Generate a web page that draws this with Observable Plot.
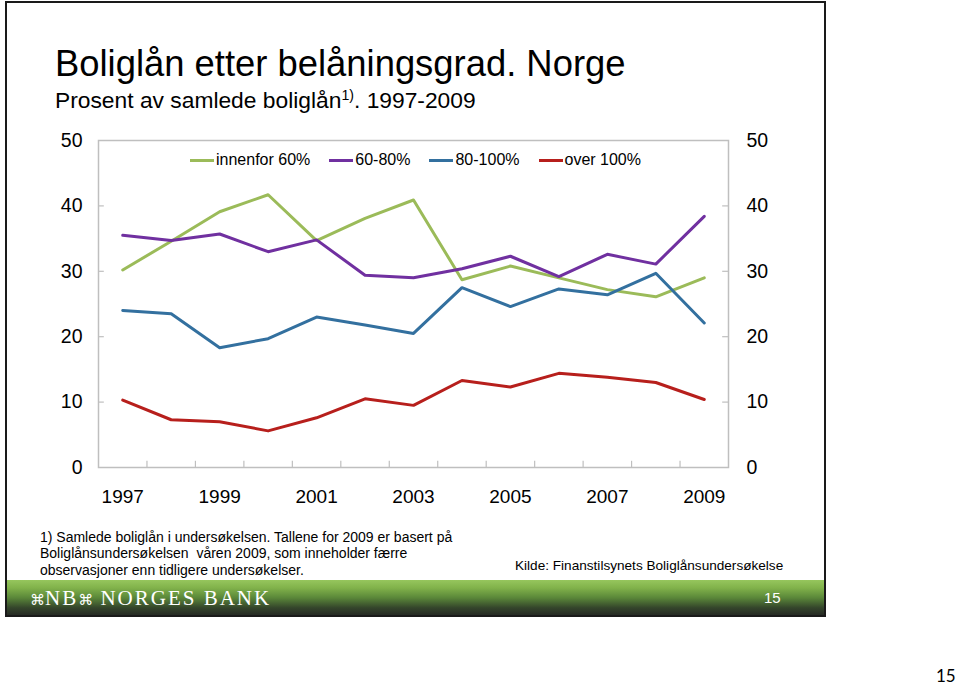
<!DOCTYPE html>
<html>
<head>
<meta charset="utf-8">
<script src="https://cdn.jsdelivr.net/npm/d3@7"></script>
<script src="https://cdn.jsdelivr.net/npm/@observablehq/plot@0.6"></script>
<style>
  html, body { margin: 0; padding: 0; background: #fff; }
  #page { position: relative; width: 960px; height: 685px; overflow: hidden; background: #fff;
          font-family: "Liberation Sans", Arial, Helvetica, sans-serif; color: #000; }
  .abs { position: absolute; white-space: nowrap; }
  #slideBorder { left: 5px; top: 1px; width: 821px; height: 616px; border: 2px solid #1a1a1a;
                 box-sizing: border-box; pointer-events: none; z-index: 5; }
  #title { left: 55px; top: 45.5px; font-size: 36.4px; line-height: 36px; }
  #subtitle { left: 55px; top: 89px; font-size: 22.8px; line-height: 23px; }
  #subtitle sup { font-size: 0.62em; vertical-align: 0.55em; line-height: 0; }
  #chart { position: absolute; left: 0; top: 120px; }
  #legend { left: 190px; top: 151px; height: 18px; display: flex; align-items: center; gap: 19px; font-size: 16px; z-index: 3; }
  #legend .item { display: flex; align-items: center; gap: 2px; }
  #legend .sw { width: 24px; height: 3px; }
  #note { left: 40px; top: 528.5px; font-size: 14px; line-height: 16.5px; }
  #source { left: 515px; top: 557.5px; font-size: 13.6px; line-height: 16.5px; }
  #footer { left: 5px; top: 580px; width: 821px; height: 37px; z-index: 1;
            background-image: linear-gradient(180deg, #96c65d 0%, #80b14a 22%, #5a8739 48%, #34452b 75%, #232323 100%); }
  #logo { left: 30px; top: 588px; color: #fff; font-family: "Liberation Serif", "DejaVu Serif", serif; font-size: 21px; line-height: 21px; letter-spacing: 2px; z-index: 2; }
  #logo .knot { font-family: "DejaVu Sans", sans-serif; font-size: 15px; letter-spacing: 0; }
  #pnum { left: 764px; top: 590px; color: #fff; font-size: 15px; line-height: 16px; z-index: 2; }
  #outerNum { left: 936px; top: 667px; font-family: Lato, "Open Sans", sans-serif; font-size: 17px; line-height: 18px; }
</style>
</head>
<body>
<div id="page">
  <div id="title" class="abs">Boliglån etter belåningsgrad. Norge</div>
  <div id="subtitle" class="abs">Prosent av samlede boliglån<sup>1)</sup>. 1997-2009</div>
  <div id="chart"></div>
  <div id="legend" class="abs"></div>
  <div id="note" class="abs">1) Samlede boliglån i undersøkelsen. Tallene for 2009 er basert på<br>Boliglånsundersøkelsen&nbsp; våren 2009, som inneholder færre<br>observasjoner enn tidligere undersøkelser.</div>
  <div id="source" class="abs">Kilde: Finanstilsynets Boliglånsundersøkelse</div>
  <div id="footer" class="abs"></div>
  <div id="logo" class="abs"><span class="knot">⌘</span>NB<span class="knot">⌘</span> NORGES BANK</div>
  <div id="pnum" class="abs">15</div>
  <div id="slideBorder" class="abs"></div>
  <div id="outerNum" class="abs">15</div>
</div>
<script>
// ---- data ----
const years = [1997, 1998, 1999, 2000, 2001, 2002, 2003, 2004, 2005, 2006, 2007, 2008, 2009];
const innenfor60 = [30.2, 34.6, 39.1, 41.7, 34.7, 38.1, 40.9, 28.7, 30.8, 29.0, 27.2, 26.1, 29.0];
const p60_80     = [35.5, 34.7, 35.7, 33.0, 34.8, 29.4, 29.0, 30.4, 32.3, 29.2, 32.6, 31.1, 38.4];
const p80_100    = [24.0, 23.5, 18.3, 19.7, 23.0, 21.8, 20.5, 27.5, 24.6, 27.3, 26.4, 29.7, 22.1];
const over100    = [10.3, 7.3, 7.0, 5.6, 7.6, 10.5, 9.5, 13.3, 12.3, 14.4, 13.8, 13.0, 10.4];
const seriesNames = ["innenfor 60%", "60-80%", "80-100%", "over 100%"];
const seriesColors = ["#9bbb59", "#7030a0", "#33709f", "#b71f1c"];
const yTicks = [0, 10, 20, 30, 40, 50];
const xLabels = [1997, 1999, 2001, 2003, 2005, 2007, 2009];

const seriesValues = [innenfor60, p60_80, p80_100, over100];
const rows = seriesNames.flatMap((name, s) =>
  years.map((year, i) => ({series: name, year, value: seriesValues[s][i]})));
const boundaries = years.slice(0, -1).map(y => y + 0.5);
const xMin = years[0] - 0.5, xMax = years[years.length - 1] + 0.5;
const innerY = yTicks.slice(1, -1);
const axisColor = "#bfbfbf";

const chart = Plot.plot({
  width: 830,
  height: 400,
  marginLeft: 98,
  marginRight: 102,
  marginTop: 20,
  marginBottom: 53,
  x: {type: "linear", domain: [xMin, xMax]},
  y: {domain: [0, 50]},
  color: {domain: seriesNames, range: seriesColors},
  style: {fontFamily: '"Liberation Sans", Arial, Helvetica, sans-serif', fontSize: "19px", color: "#000", background: "transparent", overflow: "visible"},
  marks: [
    Plot.frame({stroke: axisColor, strokeWidth: 1.5}),
    Plot.ruleX(boundaries, {x: d => d, y1: 0, y2: 0.95, stroke: axisColor, strokeWidth: 1.2}),
    Plot.ruleY(innerY, {y: d => d, x1: xMin, x2: xMin + 0.12, stroke: axisColor, strokeWidth: 1.2}),
    Plot.ruleY(innerY, {y: d => d, x1: xMax - 0.12, x2: xMax, stroke: axisColor, strokeWidth: 1.2}),
    Plot.axisY({anchor: "left", ticks: yTicks, tickSize: 0, tickPadding: 16, label: null, fontSize: 19.5}),
    Plot.axisY({anchor: "right", ticks: yTicks, tickSize: 0, tickPadding: 18, label: null, fontSize: 19.5}),
    Plot.axisX({anchor: "bottom", ticks: xLabels, tickSize: 0, tickPadding: 22, tickFormat: d => String(d), label: null, fontSize: 19}),
    Plot.line(rows, {x: "year", y: "value", z: "series", stroke: "series", strokeWidth: 3, strokeLinejoin: "round", strokeLinecap: "round"})
  ]
});
document.getElementById("chart").appendChild(chart);

// legend
const legend = document.getElementById("legend");
seriesNames.forEach((name, i) => {
  const item = document.createElement("div");
  item.className = "item";
  const sw = document.createElement("span");
  sw.className = "sw";
  sw.style.background = seriesColors[i];
  const label = document.createElement("span");
  label.textContent = name;
  item.appendChild(sw);
  item.appendChild(label);
  legend.appendChild(item);
});
</script>
</body>
</html>
